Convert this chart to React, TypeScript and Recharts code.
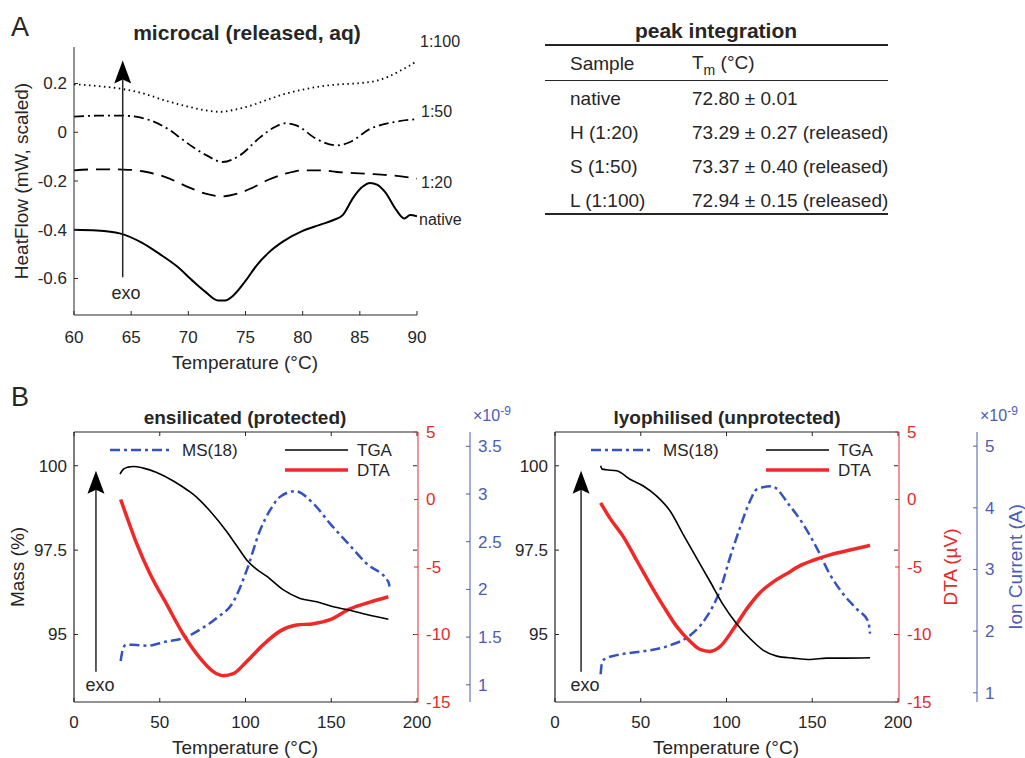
import React from 'react';
import { LineChart, Line, XAxis, YAxis, ReferenceLine } from 'recharts';

const FONT = '"Liberation Sans", Arial, Helvetica, sans-serif';
const INK = '#262626';
const RED = '#f02828';
const RED_AXIS = '#e62a2a';
const BLUE = '#3552c2';
const BLUE_AXIS = '#4b5cb4';

// ---- panel A: microcal (released, aq) ----
const nativeT = [60, 62, 64, 66, 67.5, 69, 70.5, 71.5, 72.6, 73.2, 74, 75, 76, 77, 78.3, 80, 81.5, 82.7, 83.5, 84.4, 85.2, 85.9, 86.5, 87.2, 88.2, 88.9, 89.4, 90];
const nativeHF = [-0.4, -0.403, -0.415, -0.455, -0.5, -0.55, -0.615, -0.655, -0.69, -0.69, -0.667, -0.61, -0.545, -0.495, -0.448, -0.405, -0.38, -0.36, -0.34, -0.27, -0.225, -0.208, -0.215, -0.245, -0.32, -0.354, -0.34, -0.345];

const h20T = [60, 62, 64.3, 66, 68, 70, 71.5, 73, 74.3, 75.5, 77, 78.5, 80, 81.5, 83, 85.5, 88, 90];
const h20HF = [-0.156, -0.152, -0.153, -0.16, -0.184, -0.225, -0.252, -0.263, -0.252, -0.23, -0.195, -0.17, -0.156, -0.156, -0.163, -0.17, -0.178, -0.19];

const s50T = [60, 62, 64.3, 66.6, 68.5, 69.6, 71.6, 73, 74.5, 76.3, 77.5, 78.5, 79.5, 81.2, 83, 84.1, 85.9, 87.9, 90];
const s50HF = [0.064, 0.068, 0.068, 0.05, 0.005, -0.034, -0.095, -0.122, -0.095, -0.02, 0.02, 0.037, 0.027, -0.027, -0.054, -0.041, 0.014, 0.041, 0.054];

const l100T = [60, 62, 64.3, 66, 68, 70, 71.5, 72.8, 74, 75.5, 77, 78.5, 80, 81.5, 83, 84.5, 86.4, 87.5, 88.5, 89.3, 90];
const l100HF = [0.197, 0.19, 0.177, 0.16, 0.13, 0.105, 0.09, 0.084, 0.092, 0.11, 0.135, 0.158, 0.175, 0.188, 0.196, 0.2, 0.211, 0.228, 0.252, 0.272, 0.293];

const ticksA_x = [60, 65, 70, 75, 80, 85, 90];
const ticksA_y = [-0.6, -0.4, -0.2, 0, 0.2];

// ---- panel A: peak integration table ----
const tableSamples = ['native', 'H (1:20)', 'S (1:50)', 'L (1:100)'];
const tableTm = ['72.80 ± 0.01', '73.29 ± 0.27 (released)', '73.37 ± 0.40 (released)', '72.94 ± 0.15 (released)'];

// ---- panel B: ensilicated (protected) ----
const ensTgaT = [26.8, 28.8, 31.5, 34.6, 40.4, 48.2, 57.9, 63.5, 69.6, 79.3, 88.9, 95, 100.7, 106, 112.3, 122.1, 131.8, 141.5, 151.2, 160.9, 170.6, 183.3];
const ensTga = [99.75, 99.9, 99.96, 99.98, 99.93, 99.8, 99.55, 99.37, 99.15, 98.66, 98.06, 97.62, 97.21, 96.95, 96.73, 96.32, 96.07, 95.97, 95.82, 95.72, 95.59, 95.45];
const ensDtaT = [27.2, 30.7, 36.5, 44.3, 54, 63.8, 73.5, 81.2, 87, 92.9, 100.7, 110.4, 120.1, 129.8, 139.6, 149.3, 160.9, 172.6, 183.3];
const ensDta = [0, -1.25, -3.25, -5.5, -7.75, -10, -11.75, -12.75, -13.05, -12.9, -12, -10.75, -9.75, -9.3, -9.2, -8.9, -8.1, -7.6, -7.2];
const ensMsT = [27.2, 28.8, 30.5, 34.6, 42.4, 54, 63.8, 73.5, 83.2, 92.9, 100.7, 108.5, 114.3, 120.1, 128.9, 139.6, 149.3, 160.9, 170.6, 183.3, 184];
const ensMs = [1.25, 1.39, 1.42, 1.42, 1.41, 1.455, 1.49, 1.58, 1.7, 1.87, 2.2, 2.62, 2.83, 2.97, 3.03, 2.9, 2.69, 2.46, 2.27, 2.08, 2.03];

// ---- panel B: lyophilised (unprotected) ----
const lyoTgaT = [26.6, 27.5, 30.1, 36, 43.7, 51.5, 59.3, 67.1, 74.8, 82.6, 90.4, 98.2, 105.9, 113.7, 121.5, 129.3, 139, 148.7, 158.4, 168.1, 183.7];
const lyoTga = [100, 99.9, 99.88, 99.85, 99.6, 99.4, 99.1, 98.66, 97.96, 97.26, 96.57, 95.87, 95.32, 94.88, 94.53, 94.36, 94.3, 94.26, 94.3, 94.3, 94.31];
const lyoDtaT = [26.6, 32.1, 39.8, 47.6, 55.4, 63.2, 70.9, 78.7, 84.5, 90.4, 96.2, 104, 111.8, 119.5, 127.3, 135.1, 142.9, 150.6, 160.3, 170.1, 183.7];
const lyoDta = [-0.25, -1.4, -2.75, -4.5, -6.25, -7.9, -9.4, -10.5, -11.1, -11.25, -10.9, -9.6, -8.1, -6.9, -6.1, -5.5, -4.9, -4.5, -4.1, -3.8, -3.4];
const lyoMsT = [26.6, 27.5, 29.2, 36, 43.7, 55.4, 67.1, 78.7, 88.4, 96.2, 102, 107.9, 113.7, 117.6, 126.3, 137, 144.8, 152.6, 160.3, 168.1, 175.9, 182.7, 183.7];
const lyoMs = [1.3, 1.5, 1.55, 1.61, 1.645, 1.69, 1.77, 1.93, 2.23, 2.66, 3.19, 3.68, 4.11, 4.3, 4.35, 4.03, 3.73, 3.35, 2.92, 2.6, 2.36, 2.15, 1.96];

const ticksB_x = [0, 50, 100, 150, 200];
const ticksB_mass = [95, 97.5, 100];
const ticksB_dta = [-15, -10, -5, 0, 5];
const ticksB_ionEns = [1, 1.5, 2, 2.5, 3, 3.5];
const ticksB_ionLyo = [1, 2, 3, 4, 5];

const pts = (xs: number[], ys: number[]) => xs.map((t, i) => ({ t, v: ys[i] }));

const bStyle = {
  ms: { name: 'MS(18)', color: BLUE, width: 2.5, dash: '10 4 3 4' },
  tga: { name: 'TGA', color: '#000', width: 1.6, dash: undefined as string | undefined },
  dta: { name: 'DTA', color: RED, width: 3.5, dash: undefined as string | undefined },
};

type Side = 'bottom' | 'top' | 'left' | 'right';
const makeTick = (side: Side, o: { len?: number; gap?: number; color?: string; label?: boolean; size?: number } = {}) =>
  (p: any) => {
    const { x, y, payload } = p;
    const len = o.len ?? 4;
    const gap = o.gap ?? 8;
    const c = o.color ?? INK;
    let l: number[];
    let t: { x: number; y: number; anchor: 'middle' | 'end' | 'start' } | null = null;
    if (side === 'bottom') { l = [x, y, x, y - len]; t = { x, y: y + gap, anchor: 'middle' }; }
    else if (side === 'top') { l = [x, y, x, y + len]; }
    else if (side === 'left') { l = [x, y, x + len, y]; t = { x: x - gap, y, anchor: 'end' }; }
    else { l = [x, y, x - len, y]; t = { x: x + gap, y, anchor: 'start' }; }
    return (
      <g>
        <line x1={l[0]} y1={l[1]} x2={l[2]} y2={l[3]} stroke={c} strokeWidth={1} />
        {t && o.label !== false && (
          <text x={t.x} y={t.y} dy="0.35em" textAnchor={t.anchor} fill={c} fontSize={o.size ?? 17} fontFamily={FONT}>
            {String(payload.value)}
          </text>
        )}
      </g>
    );
  };

const arrowShape = (p: any) => {
  const { x1, y1, x2, y2 } = p;
  const head = 23, half = 8.5, notch = 4;
  return (
    <g>
      <line x1={x1} y1={y1} x2={x2} y2={y2 + head - notch} stroke={INK} strokeWidth={1.5} />
      <path d={`M${x2},${y2} L${x2 + half},${y2 + head} L${x2},${y2 + head - notch} L${x2 - half},${y2 + head} Z`} fill="#000" />
    </g>
  );
};

const Txt: React.FC<{ x: number; y: number; size?: number; bold?: boolean; color?: string; align?: 'left' | 'center'; rotate?: boolean; children: React.ReactNode }> =
  ({ x, y, size = 17, bold, color = INK, align = 'center', rotate, children }) => (
    <div style={{
      position: 'absolute', left: x, top: y, fontSize: size, fontWeight: bold ? 'bold' : 'normal', color,
      lineHeight: 1, whiteSpace: 'nowrap',
      transform: `translate(${align === 'center' ? '-50%' : '0'}, -50%)${rotate ? ' rotate(-90deg)' : ''}`,
    }}>{children}</div>
  );

const BLegend: React.FC = () => {
  const row = (s: typeof bStyle.ms, x: number, y: number) => (
    <g key={s.name}>
      <line x1={x} y1={y} x2={x + 63} y2={y} stroke={s.color} strokeWidth={s.width} strokeDasharray={s.dash} />
      <text x={x + 72} y={y} dy="0.35em" fontSize={17} fontFamily={FONT} fill={INK}>{s.name}</text>
    </g>
  );
  return (
    <svg width={300} height={40} style={{ position: 'absolute', left: 100, top: 60 }}>
      {row(bStyle.ms, 10, 10)}
      {row(bStyle.tga, 185, 10)}
      {row(bStyle.dta, 185, 30)}
    </svg>
  );
};

// right-hand axes are stacked in id order: a_massR (box edge ticks), b_dta, c_ion
const ThermoChart: React.FC<{
  left: number; width: number; dtaWidth: number; ionWidth: number;
  tga: { t: number; v: number }[]; dta: { t: number; v: number }[]; ms: { t: number; v: number }[];
  ionDomain: [number, number]; ionTicks: number[]; arrowX: number;
}> = ({ left, width, dtaWidth, ionWidth, tga, dta, ms, ionDomain, ionTicks, arrowX }) => (
  <div style={{ position: 'absolute', left, top: 380, width, height: 370 }}>
    <LineChart width={width} height={370} margin={{ top: 51, right: 0, bottom: 18, left: 0 }}>
      <XAxis type="number" dataKey="t" domain={[0, 200]} ticks={ticksB_x} interval={0} allowDataOverflow
        height={30} tickSize={0} tickMargin={0} tickLine={false} axisLine={{ stroke: INK }}
        tick={makeTick('bottom', { gap: 20 })} />
      <XAxis xAxisId="top" orientation="top" type="number" dataKey="t" domain={[0, 200]} ticks={ticksB_x} interval={0} allowDataOverflow
        height={1} tickSize={0} tickMargin={0} tickLine={false} axisLine={{ stroke: INK }}
        tick={makeTick('top', { label: false })} />
      <YAxis yAxisId="mass" orientation="left" type="number" domain={[93, 101]} ticks={ticksB_mass} interval={0} allowDataOverflow
        width={74} tickSize={0} tickMargin={0} tickLine={false} axisLine={{ stroke: INK, strokeWidth: 1.2 }}
        tick={makeTick('left', { gap: 7 })} />
      <YAxis yAxisId="a_massR" orientation="right" type="number" domain={[93, 101]} ticks={ticksB_mass} interval={0} allowDataOverflow
        width={1} tickSize={0} tickMargin={0} tickLine={false} axisLine={false}
        tick={makeTick('right', { label: false })} />
      <YAxis yAxisId="b_dta" orientation="right" type="number" domain={[-15, 5]} ticks={ticksB_dta} interval={0} allowDataOverflow
        width={dtaWidth} tickSize={0} tickMargin={0} tickLine={false} axisLine={{ stroke: RED_AXIS }}
        tick={makeTick('right', { gap: 8, color: RED_AXIS })} />
      <YAxis yAxisId="c_ion" orientation="right" type="number" domain={ionDomain} ticks={ionTicks} interval={0} allowDataOverflow
        width={ionWidth} tickSize={0} tickMargin={0} tickLine={false} axisLine={{ stroke: BLUE_AXIS }}
        tick={makeTick('right', { gap: 8, color: BLUE_AXIS })} />
      <Line yAxisId="c_ion" data={ms} dataKey="v" name={bStyle.ms.name} type="monotone" dot={false} isAnimationActive={false}
        stroke={bStyle.ms.color} strokeWidth={bStyle.ms.width} strokeDasharray={bStyle.ms.dash} />
      <Line yAxisId="b_dta" data={dta} dataKey="v" name={bStyle.dta.name} type="monotone" dot={false} isAnimationActive={false}
        stroke={bStyle.dta.color} strokeWidth={bStyle.dta.width} />
      <Line yAxisId="mass" data={tga} dataKey="v" name={bStyle.tga.name} type="monotone" dot={false} isAnimationActive={false}
        stroke={bStyle.tga.color} strokeWidth={bStyle.tga.width} />
      <ReferenceLine yAxisId="mass" segment={[{ x: arrowX, y: 93.9 }, { x: arrowX, y: 99.85 }]} shape={arrowShape} />
    </LineChart>
    <BLegend />
  </div>
);

const App: React.FC = () => (
  <div style={{ position: 'absolute', left: 0, top: 0, width: 1025, height: 758, background: '#fff', fontFamily: FONT, color: INK, overflow: 'hidden' }}>
    {/* panel A */}
    <Txt x={20} y={27} size={27}>A</Txt>
    <Txt x={247} y={32} size={21} bold>microcal (released, aq)</Txt>
    <div style={{ position: 'absolute', left: 0, top: 0 }}>
      <LineChart width={440} height={380} margin={{ top: 47, right: 23, bottom: 35, left: 0 }}>
        <XAxis type="number" dataKey="t" domain={[60, 90]} ticks={ticksA_x} interval={0} allowDataOverflow
          height={30} tickSize={0} tickMargin={0} tickLine={false} axisLine={{ stroke: INK }}
          tick={makeTick('bottom', { gap: 22 })} />
        <YAxis type="number" domain={[-0.75, 0.35]} ticks={ticksA_y} interval={0} allowDataOverflow
          width={74} tickSize={0} tickMargin={0} tickLine={false} axisLine={{ stroke: INK }}
          tick={makeTick('left', { gap: 7 })} />
        <Line data={pts(l100T, l100HF)} dataKey="v" type="monotone" dot={false} isAnimationActive={false}
          stroke="#000" strokeWidth={1.8} strokeDasharray="1.5 3.5" />
        <Line data={pts(s50T, s50HF)} dataKey="v" type="monotone" dot={false} isAnimationActive={false}
          stroke="#000" strokeWidth={1.8} strokeDasharray="10 4 2 4" />
        <Line data={pts(h20T, h20HF)} dataKey="v" type="monotone" dot={false} isAnimationActive={false}
          stroke="#000" strokeWidth={1.8} strokeDasharray="14 8" />
        <Line data={pts(nativeT, nativeHF)} dataKey="v" type="monotone" dot={false} isAnimationActive={false}
          stroke="#000" strokeWidth={2} />
        <ReferenceLine segment={[{ x: 64.26, y: -0.595 }, { x: 64.26, y: 0.295 }]} shape={arrowShape} />
      </LineChart>
    </div>
    <Txt x={126} y={293} size={18}>exo</Txt>
    <Txt x={420} y={42} size={16} align="left">1:100</Txt>
    <Txt x={421} y={112} size={16} align="left">1:50</Txt>
    <Txt x={421} y={183} size={16} align="left">1:20</Txt>
    <Txt x={419} y={220} size={16} align="left">native</Txt>
    <Txt x={245} y={362} size={19}>Temperature (°C)</Txt>
    <Txt x={21} y={181} size={19} rotate>HeatFlow (mW, scaled)</Txt>

    {/* peak integration table */}
    <Txt x={716} y={30} size={21} bold>peak integration</Txt>
    <div style={{ position: 'absolute', left: 545, top: 44, width: 343, height: 1.5, background: INK }} />
    <Txt x={570} y={63} size={19} align="left">Sample</Txt>
    <Txt x={692} y={62} size={19} align="left">T<sub style={{ fontSize: 14, verticalAlign: '-0.45em', lineHeight: 0 }}>m</sub> (°C)</Txt>
    <div style={{ position: 'absolute', left: 545, top: 80, width: 343, height: 1, background: INK }} />
    {tableSamples.map((s, i) => (
      <React.Fragment key={s}>
        <Txt x={570} y={[98, 132, 166, 200][i]} size={19} align="left">{s}</Txt>
        <Txt x={692} y={[98, 132, 166, 200][i]} size={19} align="left">{tableTm[i]}</Txt>
      </React.Fragment>
    ))}
    <div style={{ position: 'absolute', left: 545, top: 213, width: 343, height: 1.5, background: INK }} />

    {/* panel B */}
    <Txt x={20} y={397} size={27}>B</Txt>
    <ThermoChart left={0} width={510} dtaWidth={52} ionWidth={40}
      tga={pts(ensTgaT, ensTga)} dta={pts(ensDtaT, ensDta)} ms={pts(ensMsT, ensMs)}
      ionDomain={[0.82, 3.65]} ionTicks={ticksB_ionEns} arrowX={12.8} />
    <ThermoChart left={481} width={544} dtaWidth={78} ionWidth={48}
      tga={pts(lyoTgaT, lyoTga)} dta={pts(lyoDtaT, lyoDta)} ms={pts(lyoMsT, lyoMs)}
      ionDomain={[0.85, 5.23]} ionTicks={ticksB_ionLyo} arrowX={15.2} />
    <Txt x={245} y={417} size={19} bold>ensilicated (protected)</Txt>
    <Txt x={727} y={417} size={19} bold>lyophilised (unprotected)</Txt>
    <Txt x={473} y={416} size={16} color={BLUE_AXIS} align="left">×10<sup style={{ fontSize: 12, verticalAlign: '0.5em', lineHeight: 0 }}>-9</sup></Txt>
    <Txt x={980} y={416} size={16} color={BLUE_AXIS} align="left">×10<sup style={{ fontSize: 12, verticalAlign: '0.5em', lineHeight: 0 }}>-9</sup></Txt>
    <Txt x={100} y={685} size={18}>exo</Txt>
    <Txt x={585} y={685} size={18}>exo</Txt>
    <Txt x={17} y={567} size={19} rotate>Mass (%)</Txt>
    <Txt x={950} y={567} size={19} color={RED_AXIS} rotate>DTA (µV)</Txt>
    <Txt x={1015} y={567} size={19} color={BLUE_AXIS} rotate>Ion Current (A)</Txt>
    <Txt x={245} y={747} size={19}>Temperature (°C)</Txt>
    <Txt x={726} y={747} size={19}>Temperature (°C)</Txt>
  </div>
);

export default App;
